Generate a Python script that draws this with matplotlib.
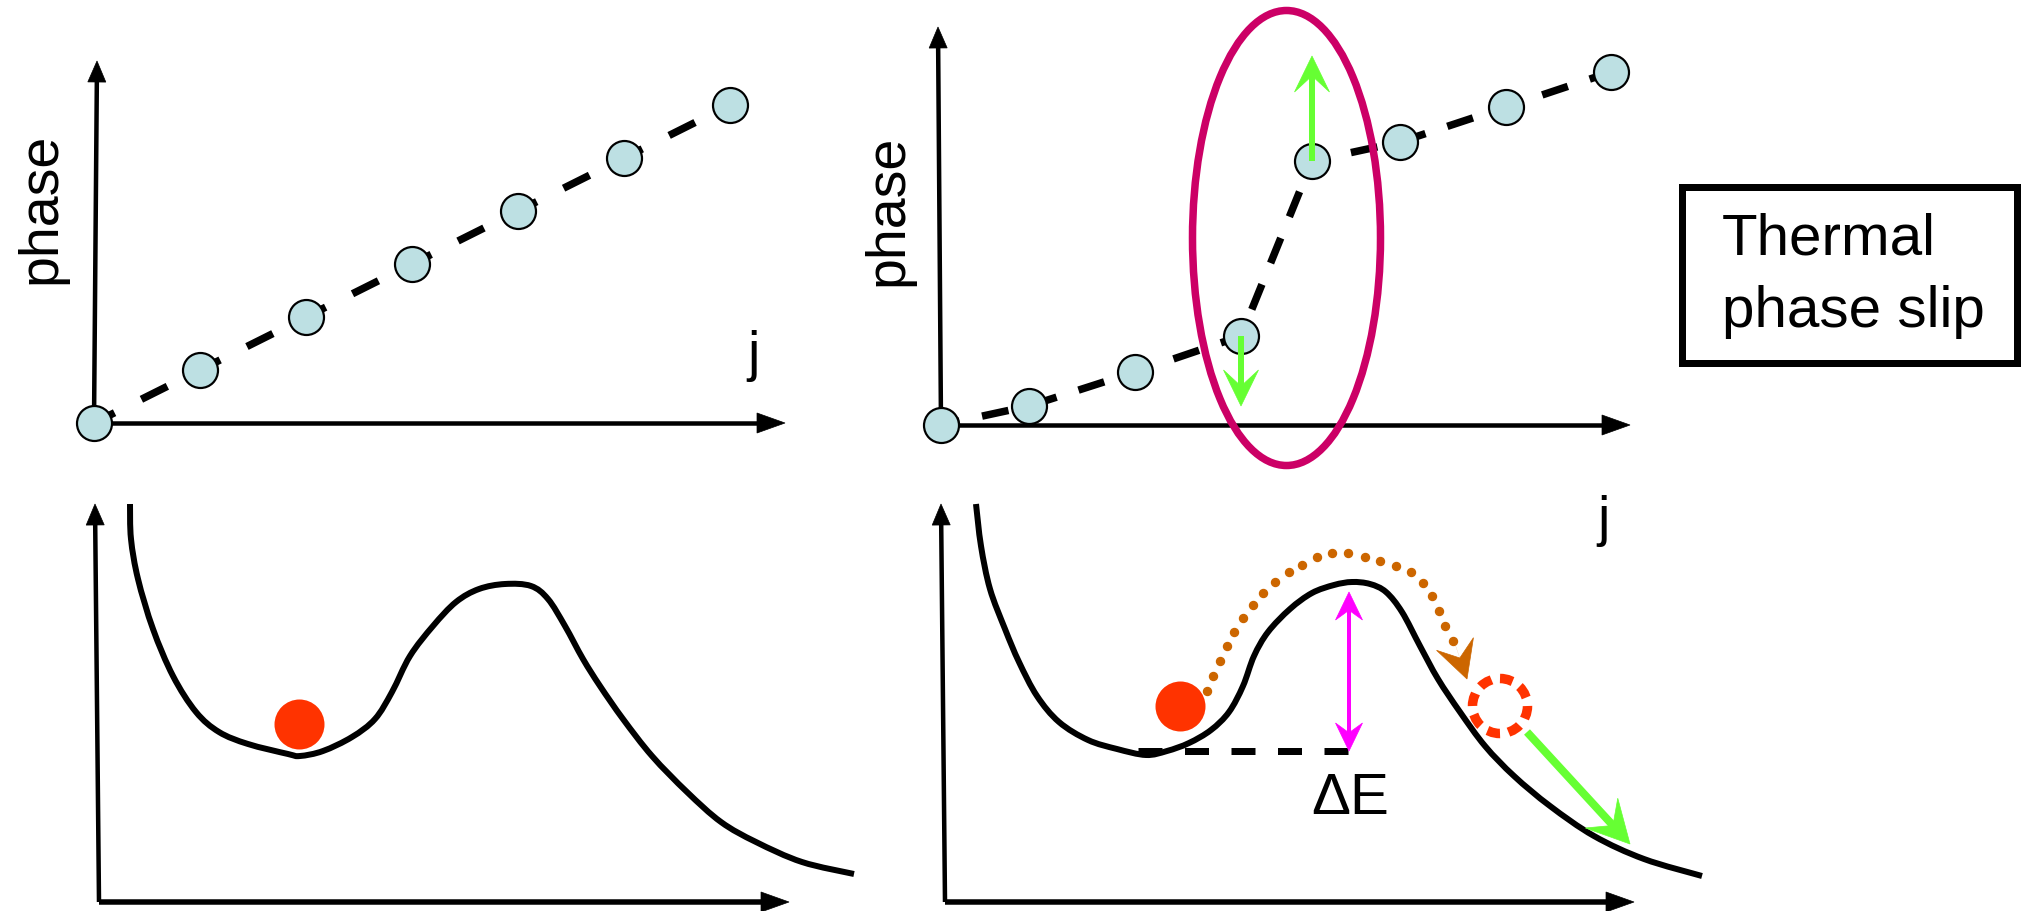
# -*- coding: utf-8 -*-
"""
Sketch of a thermal phase slip: phase along a chain (top) and the
tilted-washboard potential with a thermally activated hop (bottom).

Output:
    out.png
"""
import matplotlib

matplotlib.use("Agg")
import matplotlib.pyplot as plt
import numpy as np
from matplotlib.patches import Circle, Ellipse, PathPatch, Polygon, Rectangle
from matplotlib.path import Path

W, H, DPI = 2027, 912, 100
PT = 72 / DPI  # points per pixel

plt.rcParams["lines.scale_dashes"] = False
plt.rcParams["font.family"] = ["Liberation Sans", "DejaVu Sans"]

# --- data (sketch coordinates, pixels) ---------------------------------
# top-left: uniform phase winding
TL_J = [94, 200, 306, 412, 518, 624, 730]
TL_PHASE = [424, 371, 318, 265, 212, 159, 106]

# top-right: chain with a slip between site 4 and 5
TR_J = [941, 1029, 1135, 1241, 1312, 1400, 1506, 1611]
TR_PHASE = [426, 407, 373, 337, 162, 143, 108, 73]

# bottom-left potential
BL_X = [130, 131, 138, 153, 173, 196, 219, 248, 288, 300, 323, 352, 375, 392, 410,
        433, 456, 479, 505, 531, 548, 565, 583, 600, 623, 652, 687, 721, 756, 802, 854]
BL_U = [505, 540, 580, 630, 677, 713, 733, 745, 755, 757, 752, 738, 720, 693, 657,
        627, 603, 590, 585, 587, 600, 627, 660, 687, 720, 757, 793, 823, 843, 863, 875]

# bottom-right potential
BR_X = [976, 981, 990, 1005, 1019, 1037, 1059, 1088, 1117, 1146, 1167, 1189, 1211,
        1229, 1243, 1254, 1268, 1290, 1312, 1334, 1352, 1370, 1386, 1402, 1420, 1438,
        1460, 1485, 1514, 1550, 1594, 1644, 1702]
BR_U = [505, 547, 590, 630, 663, 697, 723, 741, 750, 756, 752, 744, 731, 713, 687,
        657, 633, 610, 594, 586, 583, 585, 593, 613, 647, 680, 713, 747, 777, 807,
        837, 860, 877]

# thermal hop over the barrier (dotted path)
HOP_X = [1207, 1213, 1220, 1227, 1234, 1243, 1253, 1263, 1275, 1289, 1302, 1317,
         1332, 1348, 1365, 1380, 1396, 1411, 1423, 1432, 1439, 1445, 1453]
HOP_Y = [692, 677, 662, 647, 633, 619, 606, 594, 583, 573, 566, 558, 554, 554, 558,
         562, 567, 573, 584, 597, 612, 627, 642]

BALL_X = [299, 1180]
BALL_Y = [725, 707]

BARRIER_X = [1138, 1348]   # ΔE reference level
BARRIER_LEVEL = 752
BARRIER_TOP = 593

CIRCLE_FILL = "#bde0e3"
RED = "#ff3300"
GREEN = "#66ff33"
MAGENTA = "#ff00ff"
ORANGE = "#cc6600"
CRIMSON = "#cc0066"


def arrow(ax, start, tip, color, lw, head_len, head_w, notch=0.0, z=3, both=False):
    """Straight arrow in pixel coords with a (notched) triangular head."""
    start = np.asarray(start, float)
    tip = np.asarray(tip, float)
    u = (tip - start) / np.hypot(*(tip - start))
    n = np.array([-u[1], u[0]])

    def head(p, d):
        base = p - d * head_len
        nb = base + d * head_len * notch
        ax.add_patch(Polygon([p, base + n * head_w / 2, nb, base - n * head_w / 2],
                             closed=True, fc=color, ec=color, lw=0.5, zorder=z))
        return nb + d * 1.5

    end = head(tip, u)
    beg = head(start, -u) if both else start
    ax.plot([beg[0], end[0]], [beg[1], end[1]], color=color, lw=lw * PT,
            solid_capstyle="butt", zorder=z)


def smooth_curve(ax, xs, ys, lw, z=2):
    """Draw a smooth pen stroke through the read points (Bezier path)."""
    p = np.column_stack([xs, ys]).astype(float)
    p = np.vstack([p[0], p, p[-1]])
    verts = [p[1]]
    codes = [Path.MOVETO]
    for i in range(1, len(p) - 2):
        c1 = p[i] + (p[i + 1] - p[i - 1]) / 6
        c2 = p[i + 1] - (p[i + 2] - p[i]) / 6
        verts += [c1, c2, p[i + 1]]
        codes += [Path.CURVE4] * 3
    ax.add_patch(PathPatch(Path(verts, codes), fill=False, ec="black",
                           lw=lw * PT, capstyle="butt", joinstyle="round", zorder=z))


def draw_axes(ax, origin, ytip, xtip, lw_y=4.5, lw_x=4.5):
    arrow(ax, origin, ytip, "black", lw_y, 21, 18, z=1)
    arrow(ax, origin, xtip, "black", lw_x, 28, 20, z=1)


def main() -> None:
    fig = plt.figure(figsize=(W / DPI, H / DPI), dpi=DPI)
    ax = fig.add_axes([0, 0, 1, 1])
    ax.set_xlim(0, W)
    ax.set_ylim(H, 0)
    ax.axis("off")

    label_kw = dict(fontsize=40, ha="center", va="center", color="black")

    # ---- top-left
    draw_axes(ax, (TL_J[0], TL_PHASE[0]), (97, 62), (785, TL_PHASE[0]))
    ax.plot(TL_J, TL_PHASE, color="black", lw=7.5 * PT,
            linestyle=(6 * PT, (29 * PT, 30 * PT)), zorder=2)
    ax.scatter(TL_J, TL_PHASE, s=(35 * PT) ** 2, c=CIRCLE_FILL,
               edgecolors="black", linewidths=2.2 * PT, zorder=3)
    ax.text(41, 208, "phase", rotation=90, **label_kw)
    ax.text(754, 356, "j", **label_kw)

    # ---- top-right
    draw_axes(ax, (TR_J[0], TR_PHASE[0]), (938, 28), (1630, TR_PHASE[0]))
    ax.plot(TR_J, TR_PHASE, color="black", lw=7.5 * PT,
            linestyle=(8 * PT, (27 * PT, 23 * PT)), zorder=2)
    ax.scatter(TR_J, TR_PHASE, s=(35 * PT) ** 2, c=CIRCLE_FILL,
               edgecolors="black", linewidths=2.2 * PT, zorder=3)
    ax.add_patch(Ellipse((1286.5, 239), 188, 455, fill=False, ec=CRIMSON,
                         lw=7.5 * PT, zorder=4))
    arrow(ax, (TR_J[3], TR_PHASE[3]), (TR_J[3], 407), GREEN, 6, 36, 35, notch=0.45, z=5)
    arrow(ax, (TR_J[4], TR_PHASE[4]), (TR_J[4], 57), GREEN, 6, 36, 35, notch=0.45, z=5)
    ax.text(888, 210, "phase", rotation=90, **label_kw)
    ax.text(1604, 521, "j", **label_kw)

    # ---- legend box
    ax.add_patch(Rectangle((1681.5, 187.5), 335, 176, fill=False, ec="black",
                           lw=7 * PT, zorder=2))
    ax.text(1722, 255, "Thermal", fontsize=42, ha="left", va="baseline")
    ax.text(1722, 327, "phase slip", fontsize=42, ha="left", va="baseline")

    # ---- bottom-left
    draw_axes(ax, (99, 903), (95, 505), (789, 903), lw_x=5.5)
    smooth_curve(ax, BL_X, BL_U, 6)

    # ---- bottom-right
    draw_axes(ax, (945, 903), (941, 505), (1634, 903), lw_x=5.5)
    smooth_curve(ax, BR_X, BR_U, 6)
    ax.plot(BARRIER_X, [BARRIER_LEVEL] * 2, color="black", lw=7 * PT,
            linestyle=(0, (24 * PT, 22.5 * PT)), zorder=2.5)
    arrow(ax, (BARRIER_X[1] + 1, BARRIER_LEVEL), (BARRIER_X[1] + 1, BARRIER_TOP),
          MAGENTA, 4, 28, 27, notch=0.35, z=4, both=True)
    ax.text(1350, 799, "ΔE", fontsize=42, ha="center", va="center")

    # hop over the barrier
    ax.plot(HOP_X, HOP_Y, linestyle="none", marker="o", ms=8 * PT,
            mfc=ORANGE, mec=ORANGE, zorder=3)
    arrow(ax, (1455, 645), (1467, 680), ORANGE, 0.1, 37, 39, notch=0.4, z=3)
    ax.add_patch(Circle((1500, 707), 27.5, fill=False, ec=RED, lw=9.5 * PT,
                        linestyle=(0, (13 * PT, 8.6 * PT)), zorder=3))
    arrow(ax, (1527, 733), (1630, 845), GREEN, 8, 42, 44, notch=0.4, z=4)

    ax.scatter(BALL_X, BALL_Y, s=(50 * PT) ** 2, c=RED, linewidths=0, zorder=3)

    fig.savefig("out.png", dpi=DPI)


if __name__ == "__main__":
    main()
